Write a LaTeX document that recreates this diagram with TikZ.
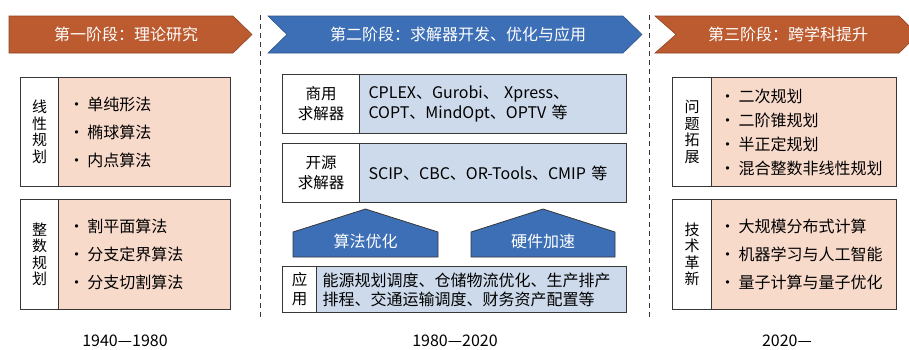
\documentclass[tikz,border=0pt]{standalone}
\usepackage{fontspec}
\setmainfont{Noto Sans CJK SC}
\usetikzlibrary{positioning,calc}
\definecolor{stageorange}{RGB}{188,91,47}
\definecolor{stageblue}{RGB}{61,111,182}
\definecolor{pinkfill}{RGB}{248,218,203}
\definecolor{bluefill}{RGB}{205,218,235}
\definecolor{edgegray}{RGB}{55,55,55}

\newcommand{\itemdot}{\makebox[15pt][l]{\hspace{-4pt}·}}

\begin{document}
\begin{tikzpicture}[x=1pt, y=-1pt,
    stagetext/.style={text=white, font=\fontsize{16}{18}\selectfont, inner sep=0pt},
    labelbox/.style={draw=edgegray, fill=white, line width=1pt, inner sep=0pt, align=center, anchor=north west, font=\fontsize{15}{16.5}\selectfont},
    pinkbox/.style={draw=edgegray, fill=pinkfill, line width=1pt, inner ysep=0pt, anchor=north west, align=left},
    bluebox/.style={draw=edgegray, fill=bluefill, line width=1pt, inner ysep=0pt, anchor=north west, align=left, font=\fontsize{16}{20}\selectfont},
    splitline/.style={edgegray, line width=0.8pt, dash pattern=on 5pt off 4pt},
    yeartext/.style={font=\fontsize{16}{18}\selectfont, inner sep=0pt}
]
    \useasboundingbox (0,0) rectangle (909,349);

    % stage banners
    \fill[stageorange, draw=stageorange!75!black, line width=0.6pt] (9,16) -- (233,16) -- (252,34.5) -- (233,53) -- (9,53) -- cycle;
    \fill[stageblue, draw=stageblue!75!black, line width=0.6pt] (268,16) -- (623,16) -- (642,34.5) -- (623,53) -- (268,53) -- (287,34.5) -- cycle;
    \fill[stageorange, draw=stageorange!75!black, line width=0.6pt] (655,16) -- (899,16) -- (918,34.5) -- (899,53) -- (655,53) -- (676,34.5) -- cycle;
    \node[stagetext] (s1) at (126,34.5) {第一阶段：理论研究};
    \node[stagetext] (s2) at (458,34.5) {第二阶段：求解器开发、优化与应用};
    \node[stagetext] (s3) at (788,34.5) {第三阶段：跨学科提升};

    % dividers
    \draw[splitline] (260,15) -- (260,318);
    \draw[splitline] (649,15) -- (649,318);

    % stage 1
    \node[labelbox, minimum width=38pt, minimum height=109pt] (lp) at (20,77) {线\\性\\规\\划};
    \node[pinkbox, inner xsep=14pt, text width=144pt, minimum height=109pt, font=\fontsize{16}{28}\selectfont] (lpitems) at (58,77)
        {\itemdot 单纯形法\\\itemdot 椭球算法\\\itemdot 内点算法};
    \node[labelbox, minimum width=38pt, minimum height=110pt] (ip) at (20,199) {整\\数\\规\\划};
    \node[pinkbox, inner xsep=14pt, text width=144pt, minimum height=110pt, font=\fontsize{16}{28}\selectfont] (ipitems) at (58,199)
        {\itemdot 割平面算法\\\itemdot 分支定界算法\\\itemdot 分支切割算法};

    % stage 2
    \node[labelbox, minimum width=77pt, minimum height=59pt, font=\fontsize{15.5}{20}\selectfont] (comm) at (282,74) {商用\\求解器};
    \node[bluebox, inner xsep=9pt, text width=249pt, minimum height=59pt] (commitems) at (359,74)
        {CPLEX、Gurobi、 Xpress、\\COPT、MindOpt、OPTV 等};
    \node[labelbox, minimum width=77pt, minimum height=59pt, font=\fontsize{15.5}{20}\selectfont] (open) at (282,143) {开源\\求解器};
    \node[bluebox, inner xsep=9pt, text width=249pt, minimum height=59pt] (openitems) at (359,143)
        {SCIP、CBC、OR-Tools、CMIP 等};

    \fill[stageblue, draw=edgegray, line width=0.8pt] (293,232) -- (365.5,209) -- (438,232) -- (438,257) -- (293,257) -- cycle;
    \node[stagetext] (algo) at (365.5,241) {算法优化};
    \fill[stageblue, draw=edgegray, line width=0.8pt] (471,232) -- (543,209) -- (615,232) -- (615,257) -- (471,257) -- cycle;
    \node[stagetext] (hard) at (543,241) {硬件加速};

    \node[labelbox, minimum width=34pt, minimum height=46pt, font=\fontsize{15.5}{19}\selectfont] (app) at (282,266) {应\\用};
    \node[bluebox, inner xsep=6pt, text width=298pt, minimum height=46pt, font=\fontsize{16}{19}\selectfont] (appitems) at (316,266)
        {能源规划调度、仓储物流优化、生产排产\\排程、交通运输调度、财务资产配置等};

    % stage 3
    \node[labelbox, minimum width=39pt, minimum height=109pt] (ext) at (672,77) {问\\题\\拓\\展};
    \node[pinkbox, inner xsep=12pt, text width=161pt, minimum height=109pt, font=\fontsize{16}{24}\selectfont] (extitems) at (711,77)
        {\itemdot 二次规划\\\itemdot 二阶锥规划\\\itemdot 半正定规划\\\itemdot 混合整数非线性规划};
    \node[labelbox, minimum width=39pt, minimum height=110pt] (tech) at (672,199) {技\\术\\革\\新};
    \node[pinkbox, inner xsep=12pt, text width=161pt, minimum height=110pt, font=\fontsize{16}{28}\selectfont] (techitems) at (711,199)
        {\itemdot 大规模分布式计算\\\itemdot 机器学习与人工智能\\\itemdot 量子计算与量子优化};

    % years
    \node[yeartext] (y1) at (125,341) {1940—1980};
    \node[yeartext] (y2) at (455,341) {1980—2020};
    \node[yeartext] (y3) at (787,341) {2020—};
\end{tikzpicture}
\end{document}
